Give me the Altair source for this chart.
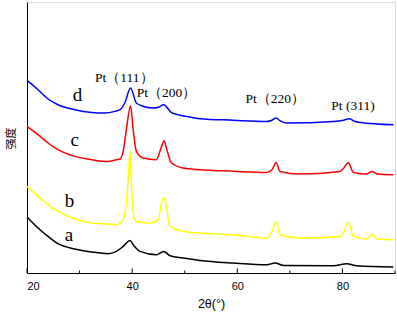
import altair as alt
import pandas as pd

# 2-theta (deg) and offset intensity (a.u.)
a_x = [20.0, 22.1, 24.0, 25.9, 29.1, 32.3, 35.4, 37.0, 38.3, 39.6, 40.2, 41.5, 44.6, 46.0, 47.2, 49.7, 52.9, 59.2, 65.6, 67.2, 68.8, 78.3, 80.8, 82.7, 89.7]
a_y = [56, 45, 36.6, 29.3, 24, 21, 19.3, 21.6, 26.6, 32.6, 28.3, 21.6, 18.3, 21.6, 17.3, 15, 12.6, 10, 8.3, 10, 7.6, 7.3, 9.3, 7.3, 6]

b_x = [20.0, 22.1, 24.0, 25.9, 29.1, 32.3, 35.4, 37.0, 37.7, 38.3, 38.9, 39.3, 39.6, 39.8, 40.2, 40.8, 43.4, 45.0, 45.6, 46.1, 46.6, 47.2, 49.7, 52.9, 59.2, 65.6, 66.6, 67.4, 68.1, 71.9, 79.5, 80.3, 81.1, 82.1, 84.6, 85.6, 86.6, 89.7]
b_y = [86.6, 76.6, 68.3, 61.6, 54, 50, 49, 48.3, 50, 53.3, 70.3, 98.3, 122.3, 98.3, 60.3, 51.6, 50, 53.3, 70.3, 75, 63.3, 46.6, 41.6, 40, 38.3, 35, 41.6, 51, 38.3, 35, 36.6, 41.3, 51, 36.6, 34, 38.3, 34, 33.3]

c_x = [20.0, 22.1, 24.0, 25.9, 29.1, 32.3, 35.4, 37.0, 37.7, 38.3, 38.9, 39.7, 40.2, 40.8, 42.1, 44.6, 45.6, 46.1, 46.6, 47.5, 49.7, 52.9, 59.2, 65.6, 66.6, 67.4, 68.1, 71.9, 79.5, 80.3, 81.1, 82.1, 84.6, 85.6, 86.6, 89.7]
c_y = [146.6, 138.3, 130, 123.3, 116.6, 113.3, 111.6, 113.3, 114, 121.6, 143.3, 167.3, 143.3, 121.6, 115, 113.3, 126.6, 132.3, 123.3, 110, 105, 103.3, 101.8, 100.6, 103.3, 110.6, 101.6, 99, 101.6, 105.3, 110.6, 100.6, 99, 101.6, 99, 98.3]

d_x = [20.0, 22.1, 24.0, 25.9, 29.1, 32.3, 34.8, 36.7, 37.7, 38.6, 39.7, 40.8, 42.1, 44.0, 45.0, 46.0, 47.5, 50.4, 52.9, 59.2, 65.6, 66.6, 67.4, 68.1, 69.4, 78.3, 80.2, 81.3, 82.3, 83.4, 89.7]
d_y = [192.6, 183.3, 174, 168.3, 163.3, 160.6, 160, 161.6, 163.3, 170, 185, 170, 166.8, 165, 165.8, 168.3, 160.3, 156.6, 154.3, 152.8, 151.6, 152.8, 155, 152.3, 150, 151.6, 152.8, 154.3, 151.8, 150.6, 148.3]

series_names = ["a", "b", "c", "d"]
series_colors = ["#000000", "#ffff00", "#ff0000", "#0000ff"]

curve_labels = ["a", "b", "c", "d"]
curve_label_x = [28.0, 28.1, 29.1, 29.6]
curve_label_y = [38.3, 71.6, 133.3, 178.3]

peak_labels = ["Pt（111）", "Pt（200）", "Pt（220）", "Pt (311)"]
peak_label_x = [38.5, 46.55, 67.2, 82.0]
peak_label_y = [195.3, 180.3, 174.0, 166.6]

major_ticks = [20, 40, 60, 80]
minor_ticks = [30, 50, 70, 90]

rows = []
for name, xs, ys in zip(series_names, [a_x, b_x, c_x, d_x], [a_y, b_y, c_y, d_y]):
    for i, (x, y) in enumerate(zip(xs, ys)):
        rows.append({"s": name, "x": x, "y": y, "o": i})
df = pd.DataFrame(rows)

xscale = alt.Scale(domain=[20, 90], nice=False, zero=False)
yscale = alt.Scale(domain=[0, 271], nice=False, zero=False)

lines = alt.Chart(df).mark_line(strokeWidth=1.5, interpolate="monotone").encode(
    x=alt.X("x:Q", scale=xscale,
            axis=alt.Axis(values=major_ticks, ticks=False, grid=False, title="2θ(°)",
                          labelFont="Liberation Sans", labelFontSize=11, labelColor="#000",
                          labelPadding=7, titleFont="Liberation Sans", titleFontSize=12.5,
                          titleFontWeight="normal", titleColor="#000", titlePadding=6,
                          domainColor="#000", domainWidth=1)),
    y=alt.Y("y:Q", scale=yscale,
            axis=alt.Axis(labels=False, ticks=False, grid=False, title="强度",
                          titleFont="Noto Sans CJK SC", titleFontSize=11,
                          titleFontWeight="normal", titleColor="#000",
                          titleX=-16, titleY=136, titleAngle=270,
                          titleBaseline="middle", titleAlign="center",
                          domainColor="#000", domainWidth=1)),
    color=alt.Color("s:N", scale=alt.Scale(domain=series_names, range=series_colors), legend=None),
    order="o:Q",
)

lab_df = pd.DataFrame({"t": curve_labels, "x": curve_label_x, "y": curve_label_y})
lab = alt.Chart(lab_df).mark_text(font="Liberation Serif", fontSize=19, color="#000",
                                  align="center", baseline="middle").encode(
    x=alt.X("x:Q", scale=xscale), y=alt.Y("y:Q", scale=yscale), text="t:N")

pk_df = pd.DataFrame({"t": peak_labels, "x": peak_label_x, "y": peak_label_y})
pk = alt.Chart(pk_df).mark_text(font="Liberation Serif", fontSize=13.5, color="#000",
                                align="center", baseline="middle").encode(
    x=alt.X("x:Q", scale=xscale), y=alt.Y("y:Q", scale=yscale), text="t:N")

maj = alt.Chart(pd.DataFrame({"x": major_ticks})).mark_rule(color="#000", strokeWidth=1).encode(
    x=alt.X("x:Q", scale=xscale), y=alt.value(271), y2=alt.value(266.5))
mnr = alt.Chart(pd.DataFrame({"x": minor_ticks})).mark_rule(color="#000", strokeWidth=1).encode(
    x=alt.X("x:Q", scale=xscale), y=alt.value(271), y2=alt.value(268.5))

chart = alt.layer(lines, maj, mnr, lab, pk).properties(
    width=368, height=271,
    autosize=alt.AutoSizeParams(type="none"),
    padding={"left": 27, "top": 2, "right": 2, "bottom": 40},
).configure_view(stroke="#666", strokeWidth=1).configure(background="white")

chart.save("out.html", embed_options={"renderer": "svg", "actions": False})
